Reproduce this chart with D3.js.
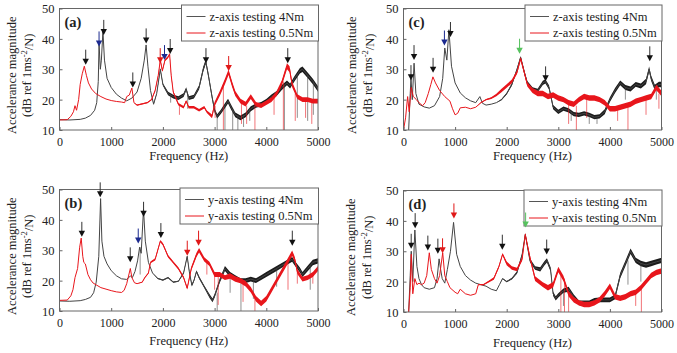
<!DOCTYPE html>
<html>
<head>
<meta charset="utf-8">
<script src="https://cdn.jsdelivr.net/npm/d3@7"></script>
<style>
  body { margin: 0; background: #fff; }
  svg { display: block; }
  text { font-family: "Liberation Serif", "Times New Roman", serif; fill: #222; }
</style>
</head>
<body>
<svg id="chart" width="677" height="353"></svg>
<script>
// ---- data ----
const freqTicks = [0, 1000, 2000, 3000, 4000, 5000]
const dbTicks = [10, 20, 30, 40, 50]
const panelLabels = ['(a)', '(b)', '(c)', '(d)']
const legendZ = ['z-axis testing 4Nm', 'z-axis testing 0.5Nm']
const legendY = ['y-axis testing 4Nm', 'y-axis testing 0.5Nm']

// [frequency Hz, dB, noise half-width dB]
const aBlack = [[0,13.4,0],[200,13.3,0],[400,13.5,0],[500,13.9,0],[600,14.8,0],[680,16.5,0],[720,19,0],[750,26,0],[765,38.5,0],[790,30,0],[810,33,0],[840,42.5,0],[870,33,0],[920,27,0],[1000,24,0],[1100,21.8,0],[1200,20.5,0],[1300,19.6,0],[1400,20.5,0],[1500,22.5,0],[1580,27,0],[1640,33,0],[1675,38,0],[1710,31,0],[1760,23,0],[1820,18.5,0.2],[1880,22,0.2],[1950,30,0.4],[2000,25,0.4],[2100,22,0.6],[2200,21,0.6],[2300,20.5,0.6],[2400,21.5,0.6],[2450,23.5,0.6],[2500,20.5,0.6],[2600,21,0.6],[2700,24,0.7],[2780,30,0.8],[2830,32.5,0.8],[2880,28,0.8],[2950,21,0.8],[3000,16.5,0.7],[3050,14.5,0.7],[3120,16,0.7],[3200,18,0.8],[3260,19.5,0.8],[3320,17.5,0.8],[3400,15,0.8],[3500,14,0.8],[3600,15,0.8],[3700,17,0.8],[3800,18,0.7],[3900,18.5,0.7],[4000,19.5,0.7],[4100,21,0.7],[4200,22,0.8],[4300,24,0.8],[4400,25.5,0.8],[4460,24.5,0.8],[4550,27,0.9],[4650,29.5,0.9],[4700,30,0.9],[4800,28,0.9],[4900,26,0.9],[5000,23.5,0.9]]
const aRed = [[0,13.3,0],[150,13.4,0],[220,14.5,0],[270,16,0],[300,18,0],[330,16.5,0],[370,20,0],[400,25,0],[440,28.5,0],[480,31,0],[520,28,0],[560,25.5,0],[620,23.5,0],[700,22,0],[800,21,0],[900,20.2,0],[1000,19.7,0],[1100,19.4,0],[1200,19.2,0],[1260,19,0],[1300,21,0],[1350,21.5,0],[1400,23.8,0],[1440,19,0],[1500,18.2,0.2],[1600,18.6,0.2],[1700,19,0.2],[1780,20,0.2],[1850,23,0.3],[1910,28,0.3],[1950,33,0.4],[1990,29.5,0.4],[2040,33,0.4],[2100,34,0.4],[2130,35,0.4],[2160,28,0.4],[2200,22.5,0.4],[2300,18.5,0.4],[2400,17.5,0.4],[2450,19.5,0.4],[2500,17.5,0.4],[2600,17.5,0.4],[2700,16.5,0.4],[2800,17.5,0.4],[2850,16,0.4],[2950,14.5,0.6],[3000,18.5,0.7],[3100,22,0.8],[3200,26,0.9],[3270,29,0.9],[3340,25,0.9],[3400,22,0.8],[3500,19.5,0.8],[3600,18.5,0.8],[3700,21,0.8],[3800,18.5,0.75],[3900,18,0.75],[4000,19,0.75],[4100,20,0.8],[4200,22,0.8],[4300,25.5,0.9],[4400,31,1],[4450,30,1],[4500,25,0.9],[4600,21,0.8],[4700,20,0.8],[4800,20,0.8],[4900,19.5,0.8],[5000,19.5,0.8]]
const bBlack = [[0,13.3,0],[200,13.2,0],[400,13.4,0],[500,13.8,0],[600,14.5,0],[660,16,0],[710,19.5,0],[760,28,0],[795,47,0],[820,33,0],[860,28,0],[920,25.5,0],[1000,23.3,0],[1100,21.6,0],[1200,20.6,0],[1300,20.4,0],[1370,21.5,0],[1410,21,0],[1460,23,0],[1510,26.5,0],[1550,31,0],[1580,29,0],[1625,43.5,0],[1660,33,0],[1720,26,0],[1800,22.5,0],[1900,20.7,0.15],[2000,20.2,0.2],[2100,21,0.2],[2200,19.5,0.2],[2300,19.8,0.2],[2400,22.5,0.3],[2470,28,0.3],[2510,23,0.4],[2560,18.5,0.4],[2600,20,0.4],[2650,23,0.4],[2700,21,0.4],[2800,18,0.4],[2900,15,0.6],[2960,13.5,0.6],[3000,15,0.6],[3100,20,0.7],[3200,24,0.8],[3300,22,0.8],[3400,21,0.8],[3500,20,0.8],[3600,20,0.8],[3700,20.5,0.8],[3800,20,0.8],[3900,21,0.8],[4000,22,0.8],[4100,23,0.8],[4200,24,0.8],[4300,25,0.8],[4400,26,0.8],[4500,27,0.8],[4560,25.5,0.8],[4650,23.5,0.8],[4700,22,0.8],[4800,24,0.9],[4900,26,0.9],[5000,26.5,0.9]]
const bRed = [[0,13.5,0],[150,13.6,0],[220,15,0],[260,17,0],[300,21,0],[350,24,0],[390,31,0],[420,34,0],[450,28,0],[470,26,0],[500,25.5,0],[550,22,0],[600,20.3,0],[650,19.2,0],[720,18.5,0],[800,17.7,0],[900,17.2,0],[1000,16.7,0],[1100,16.3,0],[1200,16.1,0],[1250,16.8,0],[1300,19,0],[1370,24,0],[1400,21,0],[1450,19.3,0],[1500,19,0],[1600,19.5,0.15],[1650,21,0.2],[1720,22.5,0.2],[1760,26,0.3],[1850,27,0.4],[1950,33,0.4],[2000,32,0.4],[2100,28,0.4],[2200,26,0.4],[2300,24,0.4],[2400,21,0.4],[2470,17.5,0.4],[2550,24,0.6],[2650,28.5,0.7],[2700,30,0.7],[2800,27,0.7],[2900,25.5,0.7],[3000,22,0.8],[3100,22,0.8],[3200,21,0.8],[3300,21.5,0.9],[3400,20.5,0.9],[3500,20,0.9],[3600,19,0.9],[3700,17,0.9],[3800,14,0.9],[3900,12.5,0.9],[4000,14,0.9],[4100,17,0.9],[4200,20,0.9],[4300,23,0.9],[4400,26,0.9],[4500,29,0.9],[4550,27,0.9],[4600,23,0.8],[4700,20.5,0.8],[4800,21,0.8],[4900,22,0.8],[5000,24,0.8]]
const cBlack = [[100,10,0],[130,22,0],[145,27,0],[170,20,0],[205,32,0],[240,22,0],[300,18.5,0],[400,17.6,0],[500,17.2,0],[600,18,0],[700,21,0],[760,27,0],[800,37,0],[840,33,0],[880,43,0],[930,31,0],[1000,25.5,0],[1100,22.2,0],[1200,20.6,0],[1300,19.6,0],[1400,19,0],[1480,21,0],[1530,18.8,0],[1600,18.2,0],[1700,18.5,0],[1800,19,0],[1900,20,0.2],[2000,22,0.3],[2100,25,0.4],[2200,30,0.4],[2270,34,0.4],[2350,28.5,0.6],[2400,25.5,0.6],[2500,23.5,0.6],[2600,23,0.6],[2700,25.5,0.7],[2750,26,0.7],[2820,24,0.7],[2900,17.5,0.7],[3000,16,0.7],[3100,17,0.7],[3200,16.5,0.7],[3300,15.2,0.7],[3400,15,0.7],[3500,15.5,0.7],[3600,15,0.7],[3700,14.2,0.7],[3800,14.5,0.7],[3900,16,0.8],[4000,20,0.8],[4100,23,0.8],[4200,25.5,0.8],[4300,24,0.8],[4400,23.5,0.8],[4500,25,0.8],[4600,24.5,0.8],[4700,26,0.9],[4760,30,0.9],[4800,27,0.9],[4870,24,0.9],[4950,25,0.9],[5000,25,0.9]]
const cRed = [[0,10,0],[40,14,0],[80,21,0],[110,16,0],[150,24,0],[190,21,0],[250,20,0],[300,19,0],[370,18,0],[420,19,0],[480,22,0],[530,25,0],[570,27.5,0],[620,25.5,0],[700,23,0],[800,21,0],[900,19.5,0],[950,17,0],[1000,15,0],[1050,15.5,0],[1100,17.3,0],[1200,17.5,0],[1300,17,0],[1400,17.5,0],[1500,19,0.15],[1600,20,0.2],[1700,20.5,0.3],[1800,21.5,0.4],[1900,23,0.6],[2000,24.5,0.6],[2100,26,0.6],[2200,29,0.6],[2270,33.5,0.6],[2340,29,0.7],[2400,25,0.7],[2500,23,0.8],[2600,22,0.9],[2700,22,0.9],[2800,21,0.9],[2900,21.5,0.9],[3000,20.5,0.9],[3100,20,0.9],[3200,19,0.9],[3300,18.5,0.9],[3400,20,0.9],[3500,21,0.9],[3600,20.5,0.9],[3700,20.5,0.9],[3800,20,0.9],[3900,19,0.9],[4000,17,0.9],[4100,17,0.9],[4200,17.5,0.9],[4300,18,0.9],[4400,18.5,0.9],[4500,19.5,0.9],[4600,20,0.9],[4700,20.5,0.9],[4800,21,0.9],[4900,24,0.9],[5000,22,0.9]]
const dBlack = [[100,10,0],[130,22,0],[150,30,0],[180,20,0],[220,37,0],[260,25,0],[300,21,0],[350,19,0],[400,18,0],[500,17.5,0],[600,18,0],[650,21,0],[690,27.5,0],[720,24,0],[750,21,0],[800,19.5,0],[850,24,0],[910,30,0],[970,39.5,0],[1030,29,0],[1100,25,0],[1200,22,0],[1300,20.5,0],[1400,19.5,0],[1500,19,0],[1600,18.5,0],[1700,17.5,0],[1800,17,0],[1860,19,0],[1920,21,0.15],[2000,20,0.2],[2100,21,0.3],[2200,23,0.4],[2300,29,0.4],[2360,35.5,0.4],[2450,27,0.6],[2550,24.5,0.6],[2650,24,0.7],[2730,26,0.7],[2780,27,0.7],[2850,24,0.7],[2900,16,0.7],[2950,14.5,0.7],[3000,15.5,0.7],[3100,17,0.7],[3200,17.5,0.8],[3300,15,0.8],[3400,13,0.8],[3500,13,0.8],[3600,13,0.8],[3700,13.8,0.8],[3800,14,0.8],[3900,14,0.8],[4000,14,0.8],[4100,15,0.8],[4200,22,0.9],[4300,26,0.9],[4400,30,0.9],[4500,27,0.9],[4600,26,0.9],[4700,25.5,0.9],[4800,26,0.9],[4900,26.5,0.9],[5000,27,0.9]]
const dRed = [[100,10,0],[130,18,0],[150,29,0],[180,16,0],[220,21,0],[260,19,0],[300,19.5,0],[350,19,0],[400,19.5,0],[450,22,0],[500,29.5,0],[540,24,0],[600,21,0],[650,19.5,0],[700,22,0],[760,29.5,0],[800,22,0],[850,20,0],[900,18,0],[1000,16.5,0],[1050,16,0],[1100,17.5,0],[1200,16,0],[1300,15.5,0],[1400,16,0],[1450,19,0.15],[1550,19,0.2],[1650,20,0.3],[1750,21,0.4],[1850,25,0.4],[1920,29,0.4],[2000,26,0.6],[2100,24.5,0.6],[2200,24,0.6],[2300,27.5,0.6],[2360,35.5,0.6],[2450,28,0.7],[2550,21,0.8],[2700,19,0.8],[2800,18,0.9],[2900,19,0.9],[3000,24,0.9],[3100,21,0.9],[3200,16,0.9],[3300,14,0.9],[3400,13,0.9],[3500,12.5,0.9],[3600,12.5,0.9],[3700,13,0.9],[3800,14,0.9],[3900,16,0.9],[4000,18.5,0.9],[4100,15,0.9],[4200,14.5,0.9],[4300,15,0.9],[4400,16,0.9],[4500,16.5,0.9],[4600,18,0.9],[4700,20,0.9],[4800,22,0.9],[4900,23,0.9],[5000,23.5,0.9]]

// downward spikes in the noisy parts: [frequency Hz, top dB, bottom dB]
const aBlackSpikes = [[2150,22,19],[2480,22,17],[3050,15,9],[3200,18,10],[3350,17,9],[3450,15,9],[3560,15,11],[3680,17,13],[4350,25,9],[4600,28,14],[4800,28,13],[4910,26,15]]
const aRedSpikes = [[2320,18,15],[3010,18,14],[3170,25,10],[3520,19,12],[3620,18,12],[3780,19,10],[4150,21,15],[4330,26,9],[4560,22,13],[4760,20,14],[4880,19,12]]
const bBlackSpikes = [[1560,31,22],[3050,16,9],[3300,22,16],[3510,20,9],[3750,20,14],[4200,24,18],[4850,25,17]]
const bRedSpikes = [[2850,26,22],[3000,22,17],[3070,22,12],[3550,20,13],[3780,15,9],[4420,26,17],[4600,23,19],[4900,22,19]]
const cBlackSpikes = [[3250,16,13],[3600,15,12],[3750,14,12],[4300,24,20],[4900,25,20]]
const cRedSpikes = [[3200,19,12],[3350,18,9],[3550,21,14],[4150,17,13],[4350,18,9],[4700,20,15],[4950,22,17]]
const dBlackSpikes = [[3100,17,12],[4350,27,19],[4600,26,20]]
const dRedSpikes = [[3050,22,9],[3120,21,9],[3200,16,9],[4500,16,12],[4610,18,9]]

// peak markers: [frequency Hz, dB, colour key]
const aArrows = [[507,32.5,'k'],[765,38.5,'b'],[856,42.3,'k'],[1418,25,'k'],[1676,39.5,'k'],[1948,33,'r'],[2031,34,'b'],[2141,36,'k'],[2833,33,'k'],[3272,30.4,'r'],[4415,33,'k']]
const bArrows = [[432,35.4,'k'],[787,48.4,'k'],[1368,27,'k'],[1523,33.2,'b'],[1626,42,'k'],[1961,35,'k'],[2471,29.2,'r'],[2690,32.5,'r'],[4503,32.5,'k']]
const cArrows = [[145,27.4,'k'],[204,34,'k'],[573,29.8,'k'],[793,38.8,'b'],[910,41.6,'k'],[2249,36.1,'g'],[2754,27,'k'],[4773,33.6,'k']]
const dArrows = [[149,31.8,'k'],[226,38.6,'k'],[472,31.2,'k'],[666,30.2,'k'],[757,30.3,'r'],[977,41.8,'r'],[1915,31.5,'k'],[2367,38.8,'g'],[2775,29.9,'k']]

// ---- layout / style ----
const BLACK_LINE = '#444'
const BLACK_BAND = '#1c1c1c'
const RED = '#e8161c'
const arrowColors = { k: '#111', b: '#1c2a8f', r: '#e01818', g: '#56c25e' }

const panels = [
    { label: panelLabels[0], legend: legendZ, black: aBlack, red: aRed, bSp: aBlackSpikes, rSp: aRedSpikes, arrows: aArrows,
      left: 59.5, right: 318, top: 8.5, bottom: 130, ylx: [-48, -33], tickY: 16, titleY: 29.5, legTop: 5, legLeft: 181.5 },
    { label: panelLabels[1], legend: legendY, black: bBlack, red: bRed, bSp: bBlackSpikes, rSp: bRedSpikes, arrows: bArrows,
      left: 59.5, right: 318, top: 189.5, bottom: 311, ylx: [-48, -33], tickY: 15.5, titleY: 34, legTop: 188, legLeft: 180 },
    { label: panelLabels[2], legend: legendZ, black: cBlack, red: cRed, bSp: cBlackSpikes, rSp: cRedSpikes, arrows: cArrows,
      left: 403.5, right: 661.5, top: 8.5, bottom: 130, ylx: [-51.5, -36], tickY: 16, titleY: 29.5, legTop: 5, legLeft: 525 },
    { label: panelLabels[3], legend: legendY, black: dBlack, red: dRed, bSp: dBlackSpikes, rSp: dRedSpikes, arrows: dArrows,
      left: 403.5, right: 661.5, top: 190.5, bottom: 312, ylx: [-52.5, -37], tickY: 15.5, titleY: 35, legTop: 190, legLeft: 524 }
]

const svg = d3.select('#chart')

panels.forEach((p, i) => {

    const x = d3.scaleLinear().domain([0, 5000]).range([p.left, p.right])
    const y = d3.scaleLinear().domain([10, 50]).range([p.bottom, p.top])

    const g = svg.append('g')

    svg.append('clipPath').attr('id', 'clip' + i)
        .append('rect')
        .attr('x', p.left).attr('y', p.top)
        .attr('width', p.right - p.left).attr('height', p.bottom - p.top)

    const plot = g.append('g').attr('clip-path', `url(#clip${i})`)

    const band = d3.area()
        .x(d => x(d[0]))
        .y0(d => y(d[1] - d[2]))
        .y1(d => y(d[1] + d[2]))
    const line = d3.line()
        .x(d => x(d[0]))
        .y(d => y(d[1]))

    const series = [
        { data: p.black, spikes: p.bSp, line: BLACK_LINE, band: BLACK_BAND },
        { data: p.red, spikes: p.rSp, line: RED, band: RED }
    ]

    series.forEach(s => {
        plot.append('path')
            .datum(s.data)
            .attr('d', band)
            .attr('fill', s.band)
        plot.append('path')
            .datum(s.data)
            .attr('d', line)
            .attr('fill', 'none')
            .attr('stroke', s.line)
            .attr('stroke-width', 1)
        plot.selectAll(null)
            .data(s.spikes)
            .join('line')
            .attr('x1', d => x(d[0])).attr('x2', d => x(d[0]))
            .attr('y1', d => y(d[1])).attr('y2', d => y(d[2]))
            .attr('stroke', s.line)
            .attr('stroke-width', 0.8)
            .attr('stroke-opacity', 0.75)
    })

    // axes (ticks inside, MATLAB style)
    const xAxis = d3.axisBottom(x).tickValues(freqTicks).tickSizeInner(-3).tickSizeOuter(0).tickFormat(d3.format('d'))
    const yAxis = d3.axisLeft(y).tickValues(dbTicks).tickSizeInner(-3).tickSizeOuter(0)

    g.append('g')
        .attr('transform', `translate(0,${p.bottom})`)
        .call(xAxis)
        .call(a => a.select('.domain').remove())
        .call(a => a.selectAll('line').attr('stroke', '#666'))
        .call(a => a.selectAll('text')
            .attr('y', p.tickY).attr('dy', 0)
            .attr('font-family', '"Liberation Serif", serif')
            .attr('font-size', 12)
            .attr('fill', '#222'))

    g.append('g')
        .attr('transform', `translate(${p.left},0)`)
        .call(yAxis)
        .call(a => a.select('.domain').remove())
        .call(a => a.selectAll('line').attr('stroke', '#666'))
        .call(a => a.selectAll('text')
            .attr('x', -5).attr('dy', '0.35em')
            .attr('font-family', '"Liberation Serif", serif')
            .attr('font-size', 12.5)
            .attr('fill', '#222'))

    // frame
    g.append('rect')
        .attr('x', p.left).attr('y', p.top)
        .attr('width', p.right - p.left).attr('height', p.bottom - p.top)
        .attr('fill', 'none')
        .attr('stroke', '#666')
        .attr('stroke-width', 1)

    // titles
    g.append('text')
        .attr('x', (p.left + p.right) / 2)
        .attr('y', p.bottom + p.titleY)
        .attr('text-anchor', 'middle')
        .attr('font-size', 12.5)
        .text('Frequency (Hz)')

    const cy = (p.top + p.bottom) / 2 + 6
    g.append('text')
        .attr('transform', `translate(${p.left + p.ylx[0]},${cy}) rotate(-90)`)
        .attr('text-anchor', 'middle')
        .attr('dy', '0.35em')
        .attr('font-size', 12.5)
        .text('Accelerance magnitude')
    const yl2 = g.append('text')
        .attr('transform', `translate(${p.left + p.ylx[1]},${cy}) rotate(-90)`)
        .attr('text-anchor', 'middle')
        .attr('dy', '0.35em')
        .attr('font-size', 12.5)
    yl2.append('tspan').text('(dB ref 1ms')
    yl2.append('tspan').attr('dy', '-0.45em').attr('font-size', 8.5).text('-2')
    yl2.append('tspan').attr('dy', '0.45em').text('/N)')

    // panel label
    g.append('text')
        .attr('x', p.left + 5)
        .attr('y', p.top + 18.5)
        .attr('font-family', '"Liberation Sans", Arial, sans-serif')
        .attr('font-weight', 'bold')
        .attr('font-size', 14.5)
        .attr('fill', '#111')
        .text(p.label)

    // legend
    const leg = g.append('g').attr('transform', `translate(${p.legLeft},${p.legTop})`)
    leg.append('rect')
        .attr('width', p.right - p.legLeft + 0.5).attr('height', 36)
        .attr('fill', '#fff')
        .attr('stroke', '#666')
    p.legend.forEach((t, j) => {
        const ly = 11.5 + j * 16.5
        leg.append('line')
            .attr('x1', 5).attr('x2', 24)
            .attr('y1', ly).attr('y2', ly)
            .attr('stroke', j === 0 ? '#555' : RED)
            .attr('stroke-width', 1)
        leg.append('text')
            .attr('x', 28).attr('y', ly)
            .attr('dy', '0.35em')
            .attr('font-size', 12.5)
            .text(t)
    })

    // peak arrows, drawn last so they sit above the legend edge
    const arrows = g.selectAll(null)
        .data(p.arrows)
        .join('g')
        .attr('transform', d => `translate(${x(d[0])},${y(d[1])})`)
    arrows.append('line')
        .attr('y1', -12).attr('y2', -2)
        .attr('stroke', d => d[2] === 'k' ? '#333' : arrowColors[d[2]])
        .attr('stroke-width', 1)
    arrows.append('path')
        .attr('d', 'M-3.2,-3L3.2,-3L0,3Z')
        .attr('fill', d => arrowColors[d[2]])
})
</script>
</body>
</html>
